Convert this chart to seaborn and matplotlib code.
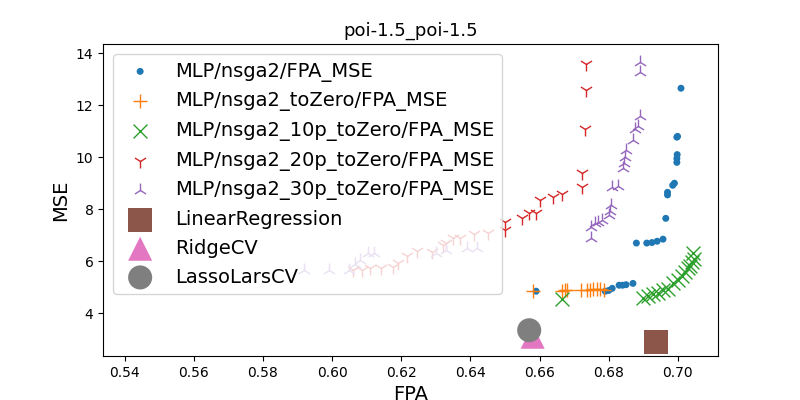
import numpy as np
import matplotlib
matplotlib.use("Agg")
import matplotlib.pyplot as plt
import seaborn as sns

nsga2_fpa = [0.659, 0.679, 0.680, 0.681, 0.683, 0.684, 0.685, 0.687,
             0.688, 0.691, 0.6925, 0.694, 0.6957, 0.6965, 0.697, 0.697,
             0.6985, 0.699, 0.6997, 0.6997, 0.6998, 0.6997, 0.6999, 0.7009]
nsga2_mse = [4.85, 4.85, 4.88, 4.96, 5.08, 5.08, 5.10, 5.15,
             6.70, 6.70, 6.72, 6.77, 6.85, 7.65, 8.65, 8.55,
             8.92, 9.00, 9.80, 9.95, 10.10, 10.77, 10.80, 12.65]

tozero_fpa = [0.658, 0.6665, 0.6673, 0.668, 0.672, 0.6737, 0.6745, 0.6755, 0.6765, 0.6775, 0.6785]
tozero_mse = [4.85, 4.85, 4.88, 4.88, 4.90, 4.90, 4.91, 4.93, 4.93, 4.95, 4.90]

p10_fpa = [0.6665, 0.6899, 0.6913, 0.6928, 0.6942, 0.6957, 0.6971, 0.6986,
           0.7000, 0.7012, 0.7020, 0.7029, 0.7035, 0.7040, 0.7046, 0.7043]
p10_mse = [4.55, 4.57, 4.65, 4.73, 4.80, 4.88, 4.95, 5.15,
           5.27, 5.42, 5.58, 5.73, 5.80, 5.96, 6.10, 6.30]

p20_fpa = [0.6734, 0.6734, 0.6730, 0.6723, 0.6723, 0.6665, 0.664, 0.660, 0.659,
           0.657, 0.655, 0.650, 0.650, 0.645, 0.641, 0.637, 0.635, 0.633, 0.632,
           0.629, 0.6245, 0.6217, 0.619, 0.6177, 0.614, 0.611, 0.6087, 0.606]
p20_mse = [13.60, 12.58, 11.10, 9.38, 8.85, 8.60, 8.46, 8.35, 7.85,
           7.85, 7.65, 7.50, 7.20, 7.10, 7.05, 6.90, 6.90, 6.70, 6.62,
           6.35, 6.40, 6.20, 5.95, 5.77, 5.73, 5.73, 5.65, 5.65]

p30_fpa = [0.689, 0.689, 0.689, 0.6885, 0.6875, 0.687, 0.685, 0.6848, 0.6845,
           0.6842, 0.6827, 0.681, 0.6806, 0.6803, 0.680, 0.678, 0.677, 0.676,
           0.675, 0.675, 0.642, 0.639, 0.633, 0.630, 0.612, 0.6105, 0.608,
           0.6067, 0.605, 0.599, 0.592]
p30_mse = [13.65, 13.27, 11.60, 11.20, 11.10, 10.65, 10.27, 10.00, 9.77,
           9.60, 8.90, 8.85, 8.15, 7.95, 7.77, 7.58, 7.50, 7.46,
           7.30, 6.88, 6.50, 6.50, 6.42, 6.30, 6.30, 6.30, 6.04,
           5.90, 5.65, 5.65, 5.65]

lr_fpa, lr_mse = [0.6936], [2.88]
ridge_fpa, ridge_mse = [0.658], [3.10]
lasso_fpa, lasso_mse = [0.657], [3.35]

fig, ax = plt.subplots(figsize=(8, 4), dpi=100)

series = [
    (nsga2_fpa, nsga2_mse, "MLP/nsga2/FPA_MSE", "o", "#1f77b4", 25),
    (tozero_fpa, tozero_mse, "MLP/nsga2_toZero/FPA_MSE", "+", "#ff7f0e", 100),
    (p10_fpa, p10_mse, "MLP/nsga2_10p_toZero/FPA_MSE", "x", "#2ca02c", 100),
    (p20_fpa, p20_mse, "MLP/nsga2_20p_toZero/FPA_MSE", "1", "#d62728", 100),
    (p30_fpa, p30_mse, "MLP/nsga2_30p_toZero/FPA_MSE", "2", "#9467bd", 100),
    (lr_fpa, lr_mse, "LinearRegression", "s", "#8c564b", 300),
    (ridge_fpa, ridge_mse, "RidgeCV", "^", "#e377c2", 300),
    (lasso_fpa, lasso_mse, "LassoLarsCV", "o", "#7f7f7f", 300),
]
for xs, ys, lab, mk, col, sz in series:
    filled = mk in ("o", "s", "^")
    sns.scatterplot(x=xs, y=ys, ax=ax, label=lab, marker=mk, s=sz,
                    color=col, edgecolor="none" if filled else None,
                    linewidth=0 if filled else 1)

ax.set_xlim(0.5338, 0.7116)
ax.set_ylim(2.36, 14.35)
ax.set_xticks([0.54, 0.56, 0.58, 0.60, 0.62, 0.64, 0.66, 0.68, 0.70])
ax.set_xlabel("FPA", fontsize=14)
ax.set_ylabel("MSE", fontsize=14)
ax.set_title("poi-1.5_poi-1.5", fontsize=13)
ax.legend(loc="upper left", fontsize=14)
fig.subplots_adjust(left=0.129, right=0.8975, bottom=0.11, top=0.89)
fig.savefig("out.png")
